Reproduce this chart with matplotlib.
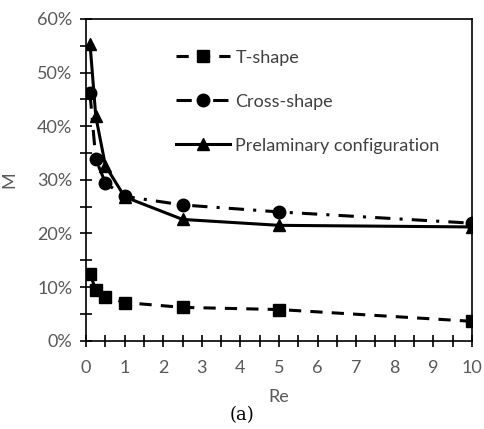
import numpy as np
import matplotlib.pyplot as plt
from matplotlib.ticker import MultipleLocator, PercentFormatter

# Data
re_vals = [0.1, 0.25, 0.5, 1, 2.5, 5, 10]
t_shape = [12.5, 9.4, 8.2, 7.1, 6.2, 5.8, 3.6]
cross_shape = [46.1, 33.8, 29.4, 26.9, 25.3, 24.0, 21.9]
prelim = [55.4, 41.8, 32.6, 26.8, 22.6, 21.5, 21.2]

plt.rcParams['font.family'] = ['Lato', 'DejaVu Sans']

fig = plt.figure(figsize=(4.84, 4.29), dpi=100)
ax = fig.add_axes([0.178, 0.206, 0.797, 0.750])

ax.plot(re_vals, t_shape, color='black', lw=2.2, linestyle=(0, (4, 3)),
        marker='s', markersize=9, label='T-shape')
ax.plot(re_vals, cross_shape, color='black', lw=2.2, linestyle=(0, (5, 3, 1, 3)),
        marker='o', markersize=9, label='Cross-shape')
ax.plot(re_vals, prelim, color='black', lw=2.2, linestyle='-',
        marker='^', markersize=9, label='Prelaminary configuration')

ax.set_xlim(0, 10)
ax.set_ylim(0, 60)
ax.xaxis.set_major_locator(MultipleLocator(1))
ax.xaxis.set_minor_locator(MultipleLocator(0.5))
ax.yaxis.set_major_locator(MultipleLocator(10))
ax.yaxis.set_minor_locator(MultipleLocator(5))
ax.yaxis.set_major_formatter(PercentFormatter(decimals=0))

ax.tick_params(which='both', direction='inout', color='black', width=1.2,
               labelsize=13, labelcolor='#595959')
ax.tick_params(which='major', length=8)
ax.tick_params(which='minor', length=8)
ax.tick_params(axis='x', pad=10)
ax.tick_params(axis='y', pad=6)
for s in ax.spines.values():
    s.set_linewidth(1.2)

ax.set_xlabel('Re', fontsize=13, color='#595959', labelpad=9)
ax.set_ylabel('M', fontsize=13, color='#595959', labelpad=14)
fig.text(0.5, 0.02, '(a)', ha='center', fontsize=13, family='DejaVu Serif')

ax.legend(loc='upper left', bbox_to_anchor=(0.19, 0.955), frameon=False,
          fontsize=13, handlelength=3.0, labelspacing=1.55, handletextpad=0.3,
          labelcolor='#404040')

fig.savefig('out.png', dpi=100)
